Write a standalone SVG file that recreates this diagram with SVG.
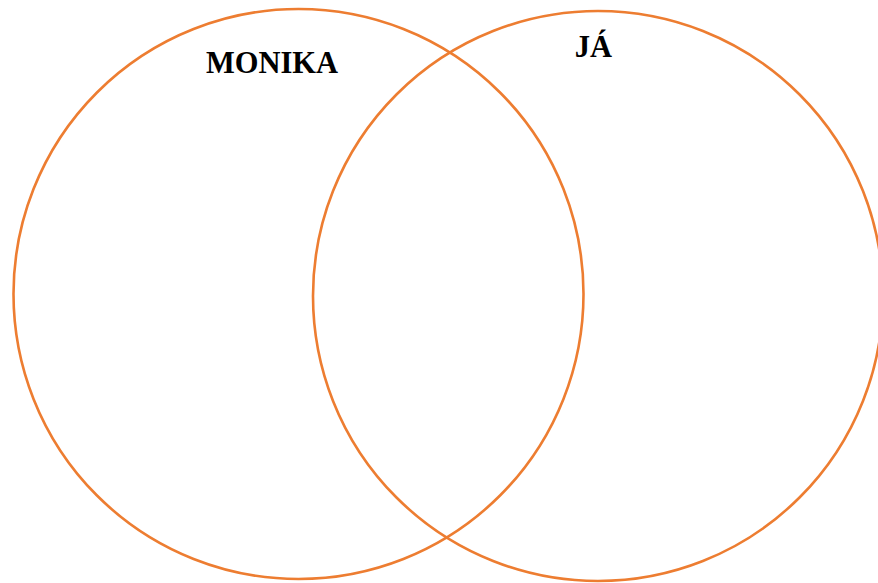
<svg xmlns="http://www.w3.org/2000/svg" width="878" height="583" viewBox="0 0 878 583">
<style>
.c{fill:none;stroke:#ED7D31;stroke-width:2.6}
.t{font-family:"Liberation Serif","Times New Roman",serif;font-weight:bold;font-size:30.5px;fill:#000;text-anchor:middle}
</style>
<rect width="878" height="583" fill="#fff"/>
<g id="monika">
<circle class="c" cx="298.5" cy="294" r="285"/>
<text class="t" x="272" y="72.5">MONIKA</text>
</g>
<g id="ja">
<circle class="c" cx="598" cy="296" r="285"/>
<text class="t" x="593.5" y="56.5">JÁ</text>
</g>
<g id="connectors"/>
</svg>
